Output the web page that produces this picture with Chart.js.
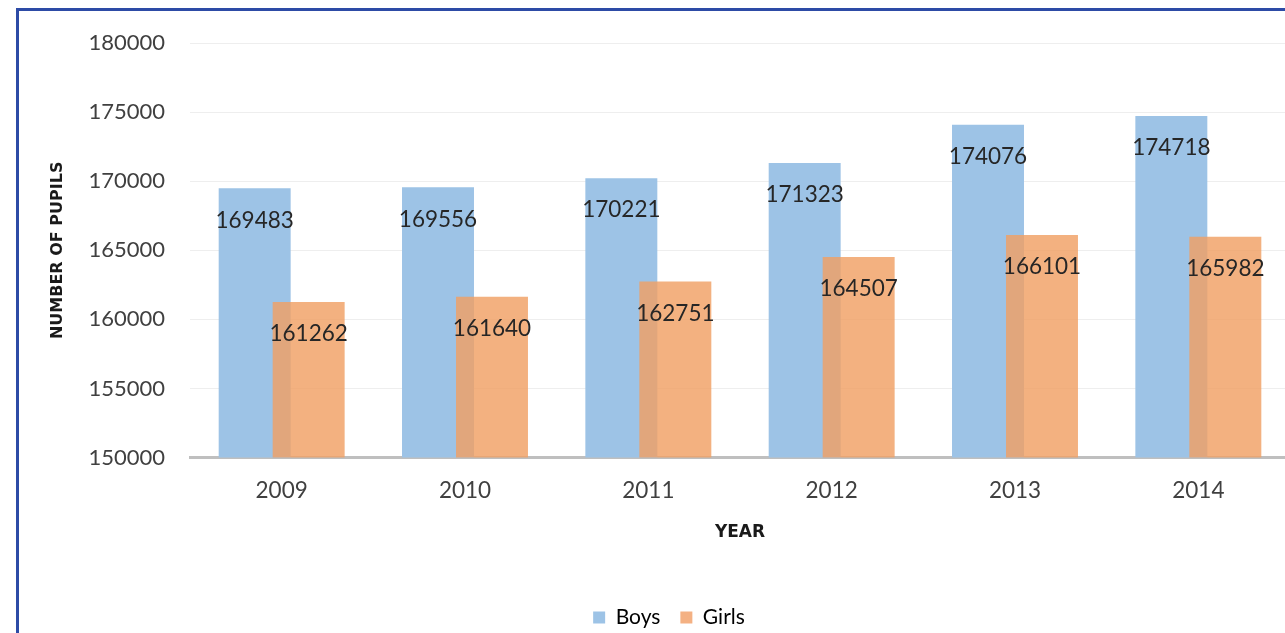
<!DOCTYPE html>
<html>
<head>
<meta charset="utf-8">
<script src="https://cdn.jsdelivr.net/npm/chart.js@4.4.1/dist/chart.umd.min.js"></script>
<style>
  html, body { margin: 0; padding: 0; background: #fff; overflow: hidden; }
  .frame {
    position: absolute; left: 16px; top: 8px; width: 1400px; height: 700px;
    border-left: 3px solid #2d4ba6; border-top: 3px solid #2d4ba6;
  }
  .chart-box { position: absolute; left: 19px; top: 11px; width: 1275px; height: 627px; }
</style>
</head>
<body>
<div class="frame"></div>
<div class="chart-box"><canvas id="chart-pupils"></canvas></div>

<script>
    const years = ['2009', '2010', '2011', '2012', '2013', '2014'];
    const boys = [169483, 169556, 170221, 171323, 174076, 174718];
    const girls = [161262, 161640, 162751, 164507, 166101, 165982];

    const labelFont = '"Lato", "DejaVu Sans", sans-serif';

    // girls bars are drawn after the boys so they sit on top of the overlap,
    // then value labels go inside each bar near its top
    const barsAndLabels = {
        id: 'barsAndLabels',
        beforeDatasetDraw(chart, args) {
            if (args.index === 1 && !chart._girlsPass) return false;
        },
        afterDatasetsDraw(chart) {
            const ctx = chart.ctx;
            chart._girlsPass = true;
            ctx.save();
            Chart.helpers.clipArea(ctx, chart.chartArea);
            chart.getDatasetMeta(1).controller.draw();
            Chart.helpers.unclipArea(ctx);
            ctx.restore();
            chart._girlsPass = false;

            ctx.save();
            ctx.font = '22.5px ' + labelFont;
            ctx.fillStyle = '#262626';
            ctx.textAlign = 'center';
            ctx.textBaseline = 'middle';
            chart.data.datasets.forEach((ds, i) => {
                chart.getDatasetMeta(i).data.forEach((bar, j) => {
                    ctx.fillText(ds.data[j], bar.x, bar.y + 32);
                });
            });
            ctx.restore();
        }
    };

    const data = {
        labels: years,
        datasets: [{
            label: 'Boys',
            data: boys,
            backgroundColor: '#9dc3e6'
        }, {
            label: 'Girls',
            data: girls,
            backgroundColor: 'rgba(240,160,100,0.82)'
        }]
    };

    const config = {
        type: 'bar',
        data: data,
        plugins: [barsAndLabels],
        options: {
            responsive: true,
            maintainAspectRatio: false,
            animation: false,
            categoryPercentage: 0.589,
            barPercentage: 1.333,
            layout: { padding: { left: 29, top: 32, right: 4, bottom: 0 } },
            plugins: {
                tooltip: { enabled: false },
                legend: {
                    position: 'bottom',
                    labels: {
                        boxWidth: 12,
                        boxHeight: 12,
                        color: '#595959',
                        padding: 20,
                        font: { family: labelFont, size: 21 },
                        generateLabels(chart) {
                            return chart.data.datasets.map((ds, i) => ({
                                text: ds.label,
                                fillStyle: i === 0 ? '#9dc3e6' : '#f4b183',
                                strokeStyle: 'rgba(0,0,0,0)',
                                lineWidth: 0,
                                datasetIndex: i
                            }));
                        }
                    }
                }
            },
            scales: {
                x: {
                    grid: { display: false, drawTicks: false },
                    border: { color: '#bfbfbf', width: 3 },
                    ticks: { color: '#404040', padding: 20, font: { family: labelFont, size: 22.5 } },
                    title: {
                        display: true, text: 'YEAR', color: '#1a1a1a',
                        font: { family: '"DejaVu Sans", sans-serif', size: 17, weight: 'bold' },
                        padding: { top: -2, bottom: 44 }
                    }
                },
                y: {
                    min: 150000,
                    max: 180000,
                    afterFit(scale) {
                        scale.width = 142;
                        scale.paddingTop = 0;
                        scale.paddingBottom = 0;
                    },
                    ticks: {
                        stepSize: 5000, color: '#404040', padding: 25,
                        font: { family: labelFont, size: 22 },
                        callback: (v) => String(v)
                    },
                    grid: { color: '#eeeeee', drawTicks: false },
                    border: { display: false },
                    title: {
                        display: true, text: 'NUMBER OF PUPILS', color: '#1a1a1a',
                        font: { family: '"DejaVu Sans", sans-serif', size: 16, weight: 'bold' },
                        padding: { top: 0, bottom: 0 }
                    }
                }
            }
        }
    };

    var chartPupils = new Chart(document.getElementById('chart-pupils'), config);
</script>
</body>
</html>
